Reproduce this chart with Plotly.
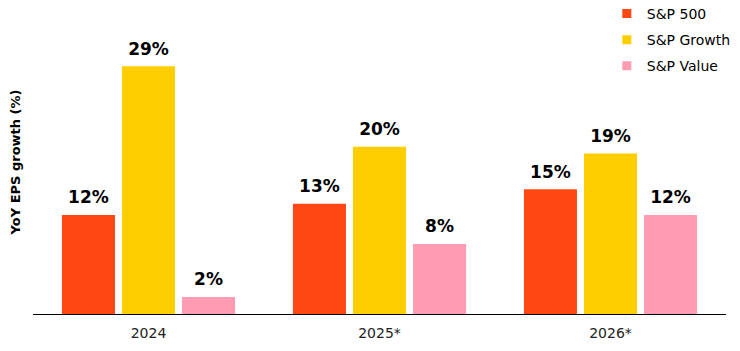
import plotly.graph_objects as go

years = ["2024", "2025*", "2026*"]
series_names = ["S&P 500", "S&P Growth", "S&P Value"]
sp500 = [11.6, 12.9, 14.6]
growth = [29.0, 19.6, 18.8]
value = [2.0, 8.2, 11.6]
colors = ["#FF4713", "#FFCE00", "#FF9CB4"]
y_title = "YoY EPS growth (%)"

all_series = [sp500, growth, value]
FONT = "DejaVu Sans"

fig = go.Figure()
for name, vals, col in zip(series_names, all_series, colors):
    fig.add_trace(go.Bar(
        x=years, y=vals, name=name, marker_color=col, marker_line_width=0,
        offsetgroup=name, showlegend=False, hoverinfo="skip",
    ))
for name, vals, col in zip(series_names, all_series, colors):
    fig.add_trace(go.Scatter(
        x=years, y=vals, mode="markers+text", offsetgroup=name,
        text=[f"{round(v)}%" for v in vals], textposition="top center",
        textfont=dict(family=FONT, size=17, color="#000000", weight="bold"),
        marker=dict(size=10, opacity=0, color=col),
        showlegend=False, hoverinfo="skip", cliponaxis=False,
    ))
for name, col in zip(series_names, colors):
    fig.add_trace(go.Scatter(
        x=[None], y=[None], mode="markers", name=name, legendgroup=name,
        marker=dict(symbol="square", size=9, color=col),
    ))

fig.update_layout(
    width=740, height=351,
    margin=dict(l=33, r=14, t=10, b=37, autoexpand=False),
    paper_bgcolor="white", plot_bgcolor="white",
    barmode="group", bargap=0.22, bargroupgap=0.117,
    scattermode="group", scattergap=0.22,
    font=dict(family=FONT, color="#000000"),
    legend=dict(x=0.828, y=1.04, xanchor="left", yanchor="top",
                font=dict(family=FONT, size=14, color="#000000"),
                itemwidth=30, tracegroupgap=5, bgcolor="rgba(0,0,0,0)"),
    xaxis=dict(showline=True, linecolor="#000000", linewidth=1,
               tickfont=dict(family=FONT, size=14, color="#222222"),
               ticks="", showgrid=False, ticklabelstandoff=6),
    yaxis=dict(range=[0, 35.6], showgrid=False, showticklabels=False,
               zeroline=False, showline=False, ticks="",
               title=dict(text=f"<b>{y_title}</b>", standoff=8,
                          font=dict(family=FONT, size=13, color="#000000"))),
)

fig.write_html("out.html")
